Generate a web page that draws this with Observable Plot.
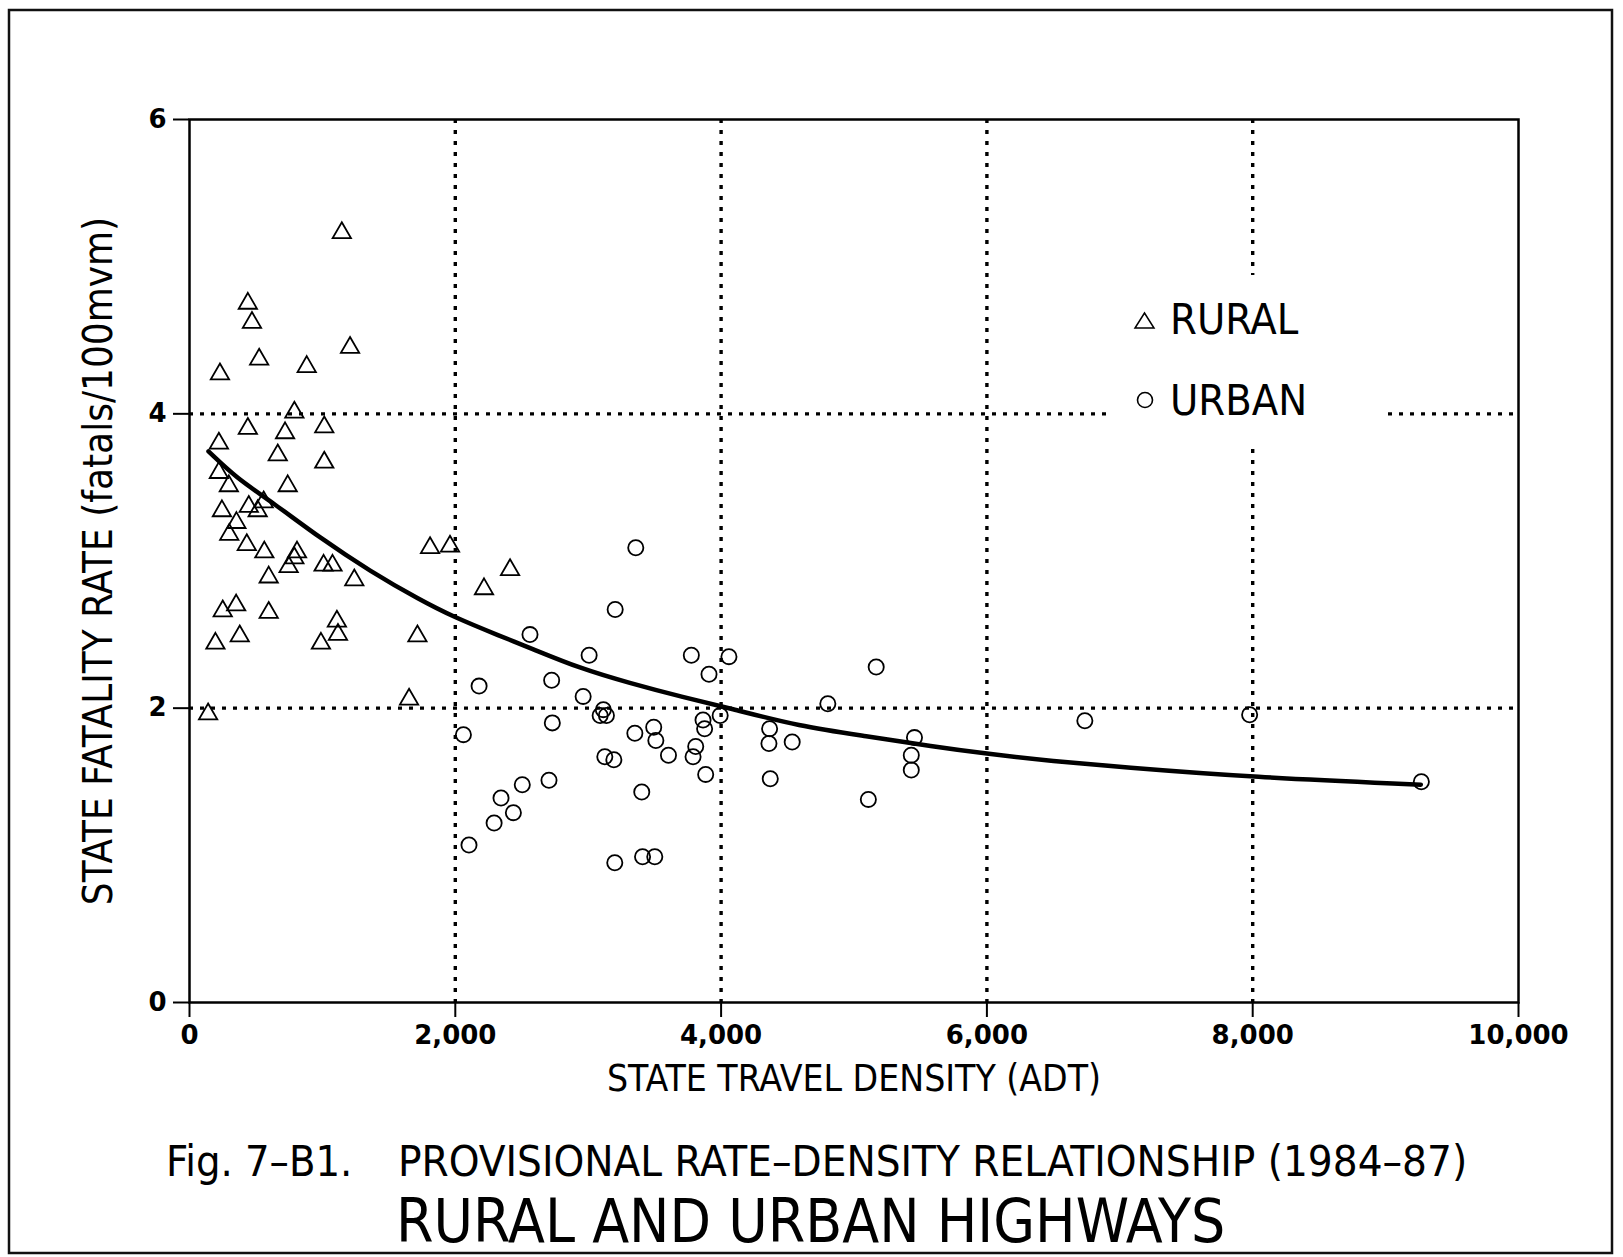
<!DOCTYPE html>
<html>
<head>
<meta charset="utf-8">
<script src="https://cdn.jsdelivr.net/npm/d3@7"></script>
<script src="https://cdn.jsdelivr.net/npm/@observablehq/plot@0.6"></script>
<style>
  html, body { margin: 0; padding: 0; background: white; }
  #wrap { position: relative; width: 1623px; height: 1257px; background: white; overflow: hidden; }
  #chart { position: absolute; left: 0; top: 0; }
  #overlay { position: absolute; left: 0; top: 0; }
  .cond { font-family: 'DejaVu Sans Condensed', 'DejaVu Sans', sans-serif; font-stretch: condensed; }
</style>
</head>
<body>
<div id="wrap">
  <div id="chart"></div>
  <svg id="overlay" width="1623" height="1257" xmlns="http://www.w3.org/2000/svg">
    <rect x="9" y="10" width="1603" height="1243" fill="none" stroke="#111" stroke-width="2.5"/>
    <g id="legend">
      <rect x="1113" y="275" width="272" height="172" fill="white"/>
      <polygon points="1135,328 1154,328 1144.5,313" fill="none" stroke="black" stroke-width="1.5"/>
      <circle cx="1145" cy="400" r="7.5" fill="none" stroke="black" stroke-width="1.6"/>
      <text class="cond" x="1170" y="334" font-size="43" fill="black">RURAL</text>
      <text class="cond" x="1170" y="415" font-size="43" fill="black">URBAN</text>
    </g>
    <text class="cond" x="166" y="1176" font-size="43" fill="black">Fig. 7–B1.</text>
    <text class="cond" x="398" y="1176" font-size="43.5" fill="black">PROVISIONAL RATE–DENSITY RELATIONSHIP (1984–87)</text>
    <text class="cond" x="396" y="1242" font-size="60" fill="black">RURAL AND URBAN HIGHWAYS</text>
  </svg>
</div>
<script>
// ---- tick / grid values ----
const xTicks = [0, 2000, 4000, 6000, 8000, 10000];
const yTicks = [0, 2, 4, 6];
const xGrid = [2000, 4000, 6000, 8000];
const yGrid = [2, 4];

const xTitle = "STATE TRAVEL DENSITY (ADT)";
const yTitle = "STATE FATALITY RATE (fatals/100mvm)";

// ---- RURAL states (travel density ADT, fatality rate) ----
const ruralX = [1146, 439, 470, 1208, 524, 882, 229, 789, 439, 719,
                1014, 221, 664, 1014, 221, 296, 739, 558, 446, 513,
                244, 353, 299, 431, 563, 1810, 1960, 809, 789, 746,
                1009, 1076, 2412, 596, 1240, 2216, 351, 250, 596, 1109,
                1117, 1715, 378, 195, 989, 1652, 140];
const ruralY = [5.23, 4.75, 4.62, 4.45, 4.37, 4.32, 4.27, 4.01, 3.90, 3.87,
                3.91, 3.80, 3.72, 3.67, 3.60, 3.51, 3.51, 3.40, 3.37, 3.34,
                3.34, 3.26, 3.18, 3.11, 3.06, 3.09, 3.10, 3.06, 3.02, 2.96,
                2.97, 2.97, 2.94, 2.89, 2.87, 2.81, 2.70, 2.66, 2.65, 2.59,
                2.50, 2.49, 2.49, 2.44, 2.44, 2.06, 1.96];

// ---- URBAN states ----
const urbanX = [3358, 3203, 2562, 3007, 3776, 4059, 5167, 3909, 2179, 2725,
                2962, 4803, 3090, 3114, 3137, 3993, 7977, 6737, 2730, 3864,
                3876, 3493, 3351, 4365, 5455, 2061, 3509, 4360, 4535, 3809,
                3789, 3604, 5431, 3125, 3193, 3884, 5431, 4370, 9269, 2705,
                2504, 3403, 2344, 5108, 2437, 2292, 2103, 3409, 3501, 3200];
const urbanY = [3.09, 2.67, 2.50, 2.36, 2.36, 2.35, 2.28, 2.23, 2.15, 2.19,
                2.08, 2.03, 1.95, 1.99, 1.95, 1.95, 1.955, 1.915, 1.90, 1.92,
                1.86, 1.87, 1.83, 1.86, 1.80, 1.82, 1.78, 1.76, 1.77, 1.74,
                1.67, 1.68, 1.68, 1.67, 1.65, 1.55, 1.58, 1.52, 1.50, 1.51,
                1.48, 1.43, 1.39, 1.38, 1.29, 1.22, 1.07, 0.99, 0.99, 0.95];

// ---- fitted relationship ----
const curveX = [143, 358, 608, 984, 1360, 1735, 1986, 2337, 2562, 2938,
                3313, 3689, 4065, 4590, 5092, 5592, 6000, 6500, 7000, 8000, 9265];
const curveY = [3.745, 3.56, 3.41, 3.155, 2.93, 2.735, 2.62, 2.49, 2.41, 2.27,
                2.17, 2.08, 2.00, 1.876, 1.81, 1.74, 1.69, 1.64, 1.60, 1.53, 1.48];

const rural = ruralX.map((x, i) => ({x, y: ruralY[i]}));
const urban = urbanX.map((x, i) => ({x, y: urbanY[i]}));
const fit = curveX.map((x, i) => ({x, y: curveY[i]}));

const COND = "'DejaVu Sans Condensed', 'DejaVu Sans', sans-serif";
const dotted = {stroke: "black", strokeOpacity: 1, strokeWidth: 3.4, strokeDasharray: "4,7"};

const chart = Plot.plot({
  width: 1623,
  height: 1110,
  marginLeft: 189,
  marginRight: 105,
  marginTop: 119,
  marginBottom: 108,
  style: {background: "white", color: "black", fontFamily: "'DejaVu Sans', sans-serif"},
  x: {domain: [0, 10000]},
  y: {domain: [0, 6]},
  marks: [
    Plot.gridX(xGrid, dotted),
    Plot.gridY(yGrid, dotted),
    Plot.frame({stroke: "black", strokeWidth: 2.5}),
    Plot.axisX(xTicks, {
      tickSize: 15, tickPadding: 8, tickFormat: d3.format(","),
      fontSize: 26, fontWeight: "bold", label: null, strokeWidth: 2
    }),
    Plot.axisY(yTicks, {
      tickSize: 16, tickPadding: 7, tickFormat: d3.format("d"),
      fontSize: 26, fontWeight: "bold", label: null, strokeWidth: 2
    }),
    Plot.text([xTitle], {
      text: d => d, frameAnchor: "bottom", dy: 77, lineAnchor: "middle",
      textAnchor: "middle", fontSize: 37, fontFamily: COND
    }),
    Plot.text([yTitle], {
      text: d => d, frameAnchor: "left", dx: -90, rotate: -90, lineAnchor: "middle",
      textAnchor: "middle", fontSize: 40, fontFamily: COND
    }),
    Plot.line(fit, {x: "x", y: "y", curve: "basis", stroke: "black", strokeWidth: 4.5}),
    Plot.dot(rural, {x: "x", y: "y", symbol: "triangle", r: 6.8, stroke: "black", strokeWidth: 1.8, fill: "none"}),
    Plot.dot(urban, {x: "x", y: "y", symbol: "circle", r: 7.6, stroke: "black", strokeWidth: 1.8, fill: "none"})
  ]
});
document.getElementById("chart").appendChild(chart);
</script>
</body>
</html>
